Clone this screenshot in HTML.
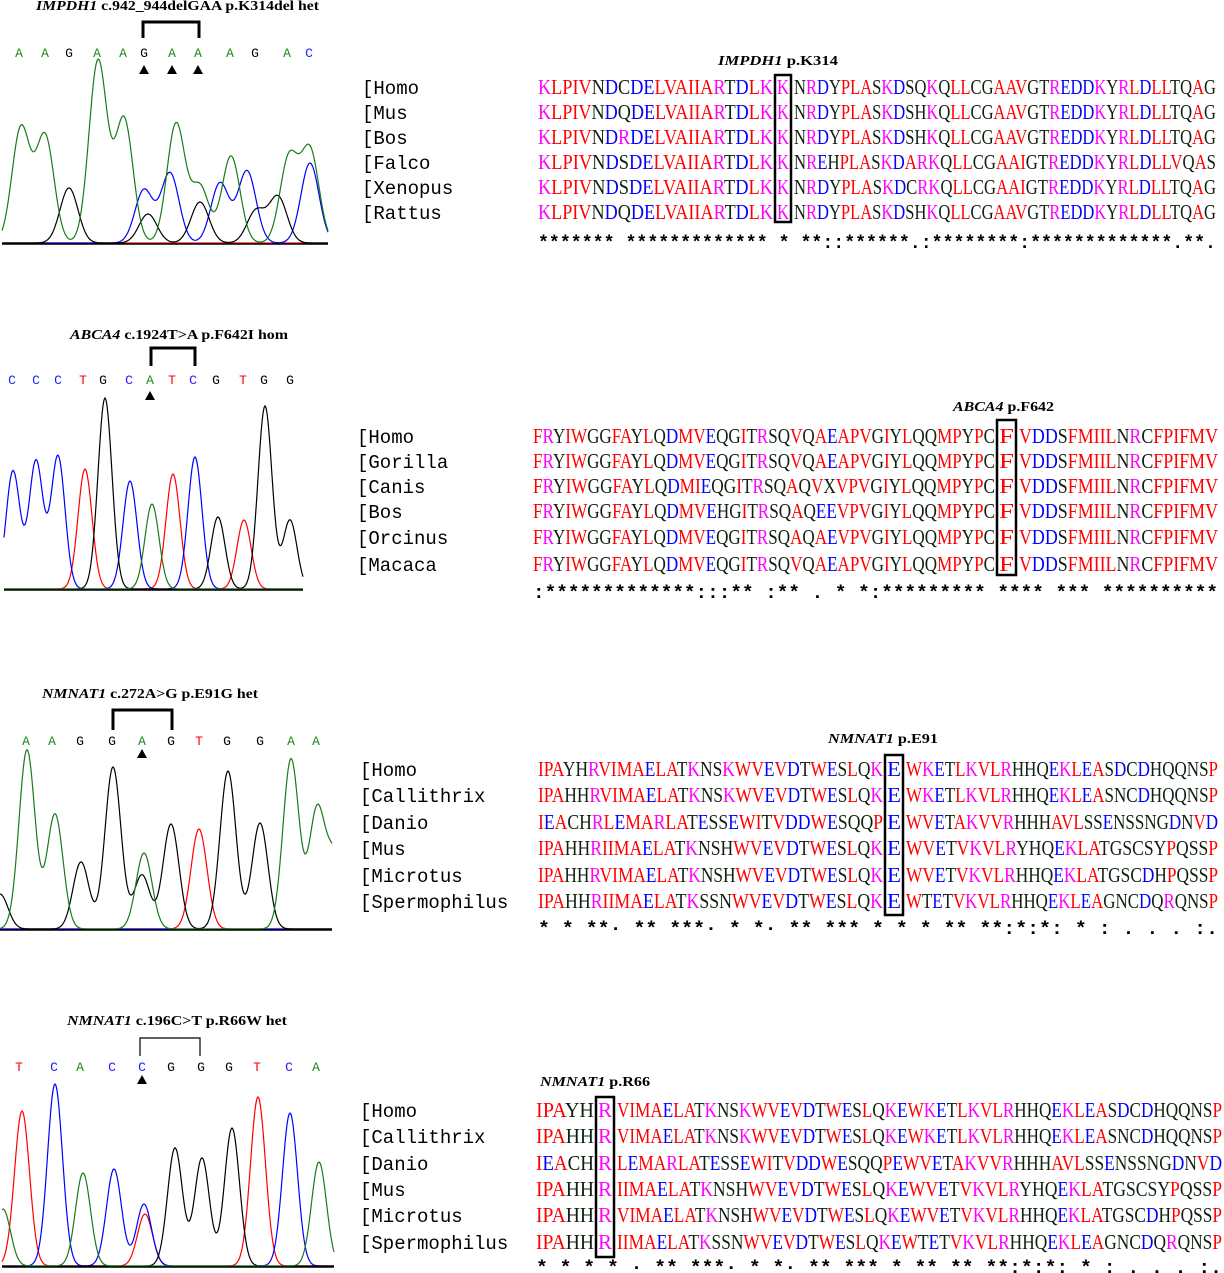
<!DOCTYPE html>
<html><head><meta charset="utf-8"><style>
html,body{margin:0;padding:0;background:#fff;}
svg{display:block;}
</style></head><body>
<svg id="fig" width="1224" height="1273" viewBox="0 0 1224 1273" xmlns="http://www.w3.org/2000/svg">
</svg>
<script>
const NS="http://www.w3.org/2000/svg";
const svg=document.getElementById('fig');

// ---- chromatogram data: [x, peakTopY] per dye ----
const chromA={green:[[21,129],[45,137],[98,62],[124,120],[176,125],[200,188],[231,157],[289,159],[310,152]],
 black:[[69,189],[148,215],[200,203],[256,212],[278,198]],
 blue:[[144,191],[170,174],[220,184],[247,172],[310,164]],red:[]};
const chromB={blue:[[13,472],[36,462],[58,457],[130,482],[195,458]],
 red:[[85,470],[173,475],[244,521]],
 black:[[105,399],[218,518],[265,407],[290,521]],
 green:[[152,505]]};
const chromC={green:[[27,751],[55,815],[144,854],[291,760],[317,812],[335,860]],
 black:[[0,895],[81,863],[113,768],[142,876],[171,825],[228,772],[260,824]],
 red:[[199,830]],blue:[]};
const chromD={red:[[22,1112],[145,1215],[258,1098]],
 blue:[[55,1085],[114,1170],[144,1205],[290,1114]],
 green:[[3,1210],[83,1174],[319,1163]],
 black:[[175,1149],[202,1159],[232,1129]]};

const basesA="AAGAAGAAAGAC", basesAx=[19,45,69,97,123,144,172,198,230,255,287,309];
const basesB="CCCTGCATCGTGG", basesBx=[12,36,58,83,103,129,150,172,193,216,243,264,290];
const basesC="AAGGAGTGGAA", basesCx=[26,52,80,112,142,171,199,227,260,291,316];
const basesD="TCACCGGGTCA", basesDx=[19,54,80,112,142,171,201,229,257,289,316];

// ---- alignment data ----
const speciesA=["Homo","Mus","Bos","Falco","Xenopus","Rattus"];
const seqA=[["KLPIVNDCDELVAIIARTDLK","K","NRDYPLASKDSQKQLLCGAAVGTREDDKYRLDLLTQAG"],
["KLPIVNDQDELVAIIARTDLK","K","NRDYPLASKDSHKQLLCGAAVGTREDDKYRLDLLTQAG"],
["KLPIVNDRDELVAIIARTDLK","K","NRDYPLASKDSHKQLLCGAAVGTREDDKYRLDLLTQAG"],
["KLPIVNDSDELVAIIARTDLK","K","NREHPLASKDARKQLLCGAAIGTREDDKYRLDLLVQAS"],
["KLPIVNDSDELVAIIARTDLK","K","NRDYPLASKDCRKQLLCGAAIGTREDDKYRLDLLTQAG"],
["KLPIVNDQDELVAIIARTDLK","K","NRDYPLASKDSHKQLLCGAAVGTREDDKYRLDLLTQAG"]];
const consA="******* ************* * **::******.:********:*************.**.";
const speciesB=["Homo","Gorilla","Canis","Bos","Orcinus","Macaca"];
const postB="VDDSFMIILNRCFPIFMV";
const seqB=[["FRYIWGGFAYLQDMVEQGITRSQVQAEAPVGIYLQQMPYPC","F",postB],
["FRYIWGGFAYLQDMVEQGITRSQVQAEAPVGIYLQQMPYPC","F",postB],
["FRYIWGGFAYLQDMIEQGITRSQAQVXVPVGIYLQQMPYPC","F",postB],
["FRYIWGGFAYLQDMVEHGITRSQAQEEVPVGIYLQQMPYPC","F",postB],
["FRYIWGGFAYLQDMVEQGITRSQAQAEVPVGIYLQQMPYPC","F",postB],
["FRYIWGGFAYLQDMVEQGITRSQVQAEAPVGIYLQQMPYPC","F",postB]];
const consB=":*************:::** :** .    * *:********* **** *** **********";
const speciesC=["Homo","Callithrix","Danio","Mus","Microtus","Spermophilus"];
const seqC=[["IPAYHRVIMAELATKNSKWVEVDTWESLQK","E","WKETLKVLRHHQEKLEASDCDHQQNSP"],
["IPAHHRVIMAELATKNSKWVEVDTWESLQK","E","WKETLKVLRHHQEKLEASNCDHQQNSP"],
["IEACHRLEMARLATESSEWITVDDWESQQP","E","WVETAKVVRHHHAVLSSENSSNGDNVD"],
["IPAHHRIIMAELATKNSHWVEVDTWESLQK","E","WVETVKVLRYHQEKLATGSCSYPQSSP"],
["IPAHHRVIMAELATKNSHWVEVDTWESLQK","E","WVETVKVLRHHQEKLATGSCDHPQSSP"],
["IPAHHRIIMAELATKSSNWVEVDTWESLQK","E","WTETVKVLRHHQEKLEAGNCDQRQNSP"]];
const consC="* * **· ** ***· * *· ** *** *  * * ** **:*:*:  * : . . .  :.";
const seqD=seqC.map(r=>{const full=r[0]+r[1]+r[2];return [full.slice(0,5),full[5],full.slice(6)];});
const consD="* * * * · ** ***· * *· ** *** * ** ** **:*:*:  * : . . .  :.";

function el(tag,attrs,parent){const e=document.createElementNS(NS,tag);for(const k in attrs)e.setAttribute(k,attrs[k]);(parent||svg).appendChild(e);return e;}
const dye={green:'#1a7a1a',black:'#000',blue:'#0000ff',red:'#ff0000'};
const baseCol={A:'#1a8a1a',C:'#2020ff',G:'#000',T:'#ff0000'};
function aaCol(c){if("AVFPMILW".includes(c))return '#ff0000';if("DE".includes(c))return '#0000ff';if("RK".includes(c))return '#ff00ff';return '#102010';}

function chrom(name,data,x0,x1,base,sig){
  const g=el('g',{});
  
  
  for(const c of ['red','blue','black','green']){
    const pk=data[c]||[]; let d='';
    for(let x=x0;x<=x1;x++){let y=0;for(const p of pk){const h=base-p[1];y+=h*Math.exp(-((x-p[0])**2)/(2*sig*sig));}
      d+=(x===x0?'M':'L')+x+','+(base-1-y).toFixed(1);}
    const p=el('path',{d:d,fill:'none',stroke:dye[c],'stroke-width':1.2},g);
    
    
  }
  const ax=el('line',{x1:x0,x2:x1,y1:base,y2:base,stroke:'#000','stroke-width':1.5},g);
  
  
}
function bases(str,xs,y){
  for(let i=0;i<str.length;i++){
    const t=el('text',{x:xs[i],y:y,'text-anchor':'middle','font-family':'Liberation Mono, monospace','font-size':13,fill:baseCol[str[i]]});
    t.textContent=str[i];
    
    
  }
}
function tri(xs,y){for(const x of xs){const t=el('path',{d:`M${x-5},${y+4}L${x+5},${y+4}L${x},${y-5}Z`,fill:'#000'});
  
  }}
function bracket(x1,x2,y1,y2,w){const p=el('path',{d:`M${x1},${y2}L${x1},${y1}L${x2},${y1}L${x2},${y2}`,fill:'none',stroke:'#000','stroke-width':w});
  
  }
function title(gene,rest,x,y,len){
  const t=el('text',{x:x,y:y,'font-family':'Liberation Serif, serif','font-size':14,'font-weight':'bold',textLength:len,lengthAdjust:'spacingAndGlyphs'});
  const a=el('tspan',{'font-style':'italic'},t);a.textContent=gene;
  const b=el('tspan',{},t);b.textContent=' '+rest;
  
  
}
function seqText(s,x1,x2,y,parent){
  const t=el('text',{x:x1,y:y,'font-family':'Liberation Serif, serif','font-size':21,textLength:x2-x1,lengthAdjust:'spacingAndGlyphs'},parent);
  for(const c of s){const sp=el('tspan',{fill:aaCol(c)},t);sp.textContent=c;}
  
  
}
function align(species,seq,cons,lx,preX,boxX1,boxX2,postX2,bases0,dy,consY,boxY1,boxY2){
  for(let i=0;i<species.length;i++){
    const y=bases0[i];
    const l=el('text',{x:lx,y:y,'font-family':'Liberation Mono, monospace','font-size':19,fill:'#000'});
    l.textContent='['+species[i];
    
    
    const g=el('g',{});
    
    
    seqText(seq[i][0],preX,boxX1-2,y,g);
    seqText(seq[i][1],boxX1+2,boxX2-2,y,g);
    seqText(seq[i][2],boxX2+3,postX2,y,g);
  }
  const b=el('rect',{x:boxX1,y:boxY1,width:boxX2-boxX1,height:boxY2-boxY1,fill:'none',stroke:'#000','stroke-width':2.5});
  
  
  const c=el('text',{x:preX,y:consY,'font-family':'Liberation Mono, monospace','font-size':18,'font-weight':'bold',textLength:postX2-preX,lengthAdjust:'spacingAndGlyphs',fill:'#000'});
  c.textContent=cons;
  
  
}

// Panel A
title('IMPDH1','c.942_944delGAA p.K314del het',36,10,283);
bracket(143,199,22,38,3);
bases(basesA,basesAx,57);tri([144,172,198],70);
chrom('chromatogram-impdh1',chromA,2,328,244,9);
title('IMPDH1','p.K314',718,65,120);
align(speciesA,seqA,consA,362,538,775,791,1216,[94,119,144,169,194,219],25,248,75,222);

// Panel B
title('ABCA4','c.1924T>A p.F642I hom',70,339,218);
bracket(151,195,348,366,3);
bases(basesB,basesBx,384);tri([150],396);
chrom('chromatogram-abca4',chromB,4,303,590,7);
title('ABCA4','p.F642',953,411,101);
align(speciesB,seqB,consB,357,533,997,1016,1218,[443,468,493,518,544,571],25,598,420,575);

// Panel C
title('NMNAT1','c.272A>G p.E91G het',42,698,216);
bracket(113,172,710,730,3);
bases(basesC,basesCx,745);tri([142],754);
chrom('chromatogram-nmnat1-e91',chromC,0,332,930,8);
title('NMNAT1','p.E91',828,743,110);
align(speciesC,seqC,consC,360,538,885,903,1218,[776,802,829,855,882,908],26,934,755,915);

// Panel D
title('NMNAT1','c.196C>T p.R66W het',67,1025,220);
bracket(140,200,1038,1056,1.2);
bases(basesD,basesDx,1071);tri([142],1080);
chrom('chromatogram-nmnat1-r66',chromD,2,334,1267,7.5);
title('NMNAT1','p.R66',540,1086,110);
align(speciesC,seqD,consD,360,536,596,614,1222,[1117,1143,1170,1196,1222,1249],26,1273,1097,1257);
</script>
</body></html>
